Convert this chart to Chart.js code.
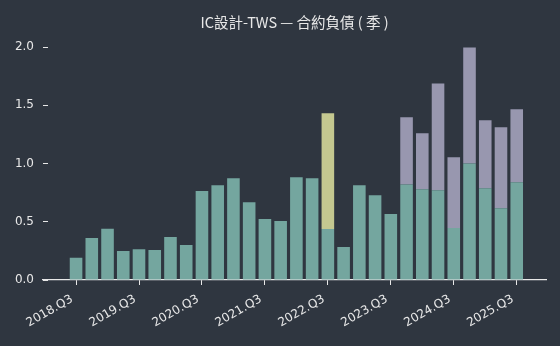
<!DOCTYPE html>
<html>
<head>
<meta charset="utf-8">
<script src="https://cdn.jsdelivr.net/npm/chart.js@4"></script>
<style>
  html, body { margin: 0; padding: 0; background: #2f3640; }
  #wrap { width: 560px; height: 346px; }
</style>
</head>
<body>
<div id="wrap"><canvas id="c" width="560" height="346"></canvas></div>
<script>
// ---- data ----
const quarters = [
  '2018.Q3','2018.Q4','2019.Q1','2019.Q2','2019.Q3','2019.Q4','2020.Q1','2020.Q2',
  '2020.Q3','2020.Q4','2021.Q1','2021.Q2','2021.Q3','2021.Q4','2022.Q1','2022.Q2',
  '2022.Q3','2022.Q4','2023.Q1','2023.Q2','2023.Q3','2023.Q4','2024.Q1','2024.Q2',
  '2024.Q3','2024.Q4','2025.Q1','2025.Q2','2025.Q3'
];
const baseValues = [
  0.19, 0.36, 0.44, 0.25, 0.265, 0.257, 0.37, 0.30,
  0.765, 0.814, 0.874, 0.668, 0.523, 0.506, 0.883, 0.874,
  0.437, 0.283, 0.814, 0.728, 0.566, 0.82, 0.78, 0.771,
  0.446, 1.0, 0.788, 0.617, 0.84
];
const upperValues = [
  null, null, null, null, null, null, null, null,
  null, null, null, null, null, null, null, null,
  null, null, null, null, null, 0.577, 0.48, 0.917,
  0.608, 0.997, 0.583, 0.694, 0.625
];
const highlightValues = [
  null, null, null, null, null, null, null, null,
  null, null, null, null, null, null, null, null,
  0.994, null, null, null, null, null, null, null,
  null, null, null, null, null
];
const xTickIndices = [0, 4, 8, 12, 16, 20, 24, 28];
const yTickValues = [0, 0.5, 1.0, 1.5, 2.0];
const titleText = 'IC設計-TWS — 合約負債 ( 季 )';

// ---- build ----
const toPoints = arr => arr.map((v, i) => ({ x: i, y: v })).filter(p => p.y !== null);
const textColor = '#e8e8e8';
const tickFont = { family: 'DejaVu Sans', size: 12 };

new Chart(document.getElementById('c'), {
  type: 'bar',
  data: {
    datasets: [
      { label: 'base', data: toPoints(baseValues), backgroundColor: '#74a69f' },
      { label: 'upper', data: toPoints(upperValues), backgroundColor: '#9897af' },
      { label: 'highlight', data: toPoints(highlightValues), backgroundColor: '#c4c890' }
    ]
  },
  options: {
    responsive: false,
    animation: false,
    events: [],
    barPercentage: 0.8,
    categoryPercentage: 1.0,
    layout: { padding: { left: 0, right: 14, top: 0, bottom: 0 } },
    plugins: {
      legend: { display: false },
      tooltip: { enabled: false },
      title: {
        display: true,
        fullSize: false,
        text: titleText,
        color: textColor,
        font: { family: "'Noto Sans CJK TC', 'DejaVu Sans'", size: 14.5, weight: 'normal', lineHeight: 1.2 },
        padding: { top: 14, bottom: 4 }
      }
    },
    scales: {
      x: {
        type: 'linear',
        stacked: true,
        offset: false,
        min: -2.1,
        max: 29.86,
        afterBuildTicks: s => { s.ticks = xTickIndices.map(v => ({ value: v })); },
        afterFit: s => { s.height = 66; },
        grid: { display: true, offset: false, drawOnChartArea: false, drawTicks: true, tickLength: 5, color: textColor, tickWidth: 1 },
        border: { display: true, color: textColor, width: 1.2 },
        ticks: {
          color: textColor,
          font: tickFont,
          minRotation: 30,
          maxRotation: 30,
          padding: 7,
          labelOffset: -4,
          autoSkip: false,
          callback: v => quarters[v]
        }
      },
      y: {
        type: 'linear',
        stacked: true,
        min: 0,
        max: 2.1,
        afterBuildTicks: s => { s.ticks = yTickValues.map(v => ({ value: v })); },
        afterFit: s => { s.width = 43; },
        grid: { display: true, drawOnChartArea: false, drawTicks: true, tickLength: -5, color: textColor, tickWidth: 1 },
        border: { display: false },
        ticks: {
          color: textColor,
          font: tickFont,
          padding: 14,
          callback: v => v.toFixed(1)
        }
      }
    }
  }
});
</script>
</body>
</html>
